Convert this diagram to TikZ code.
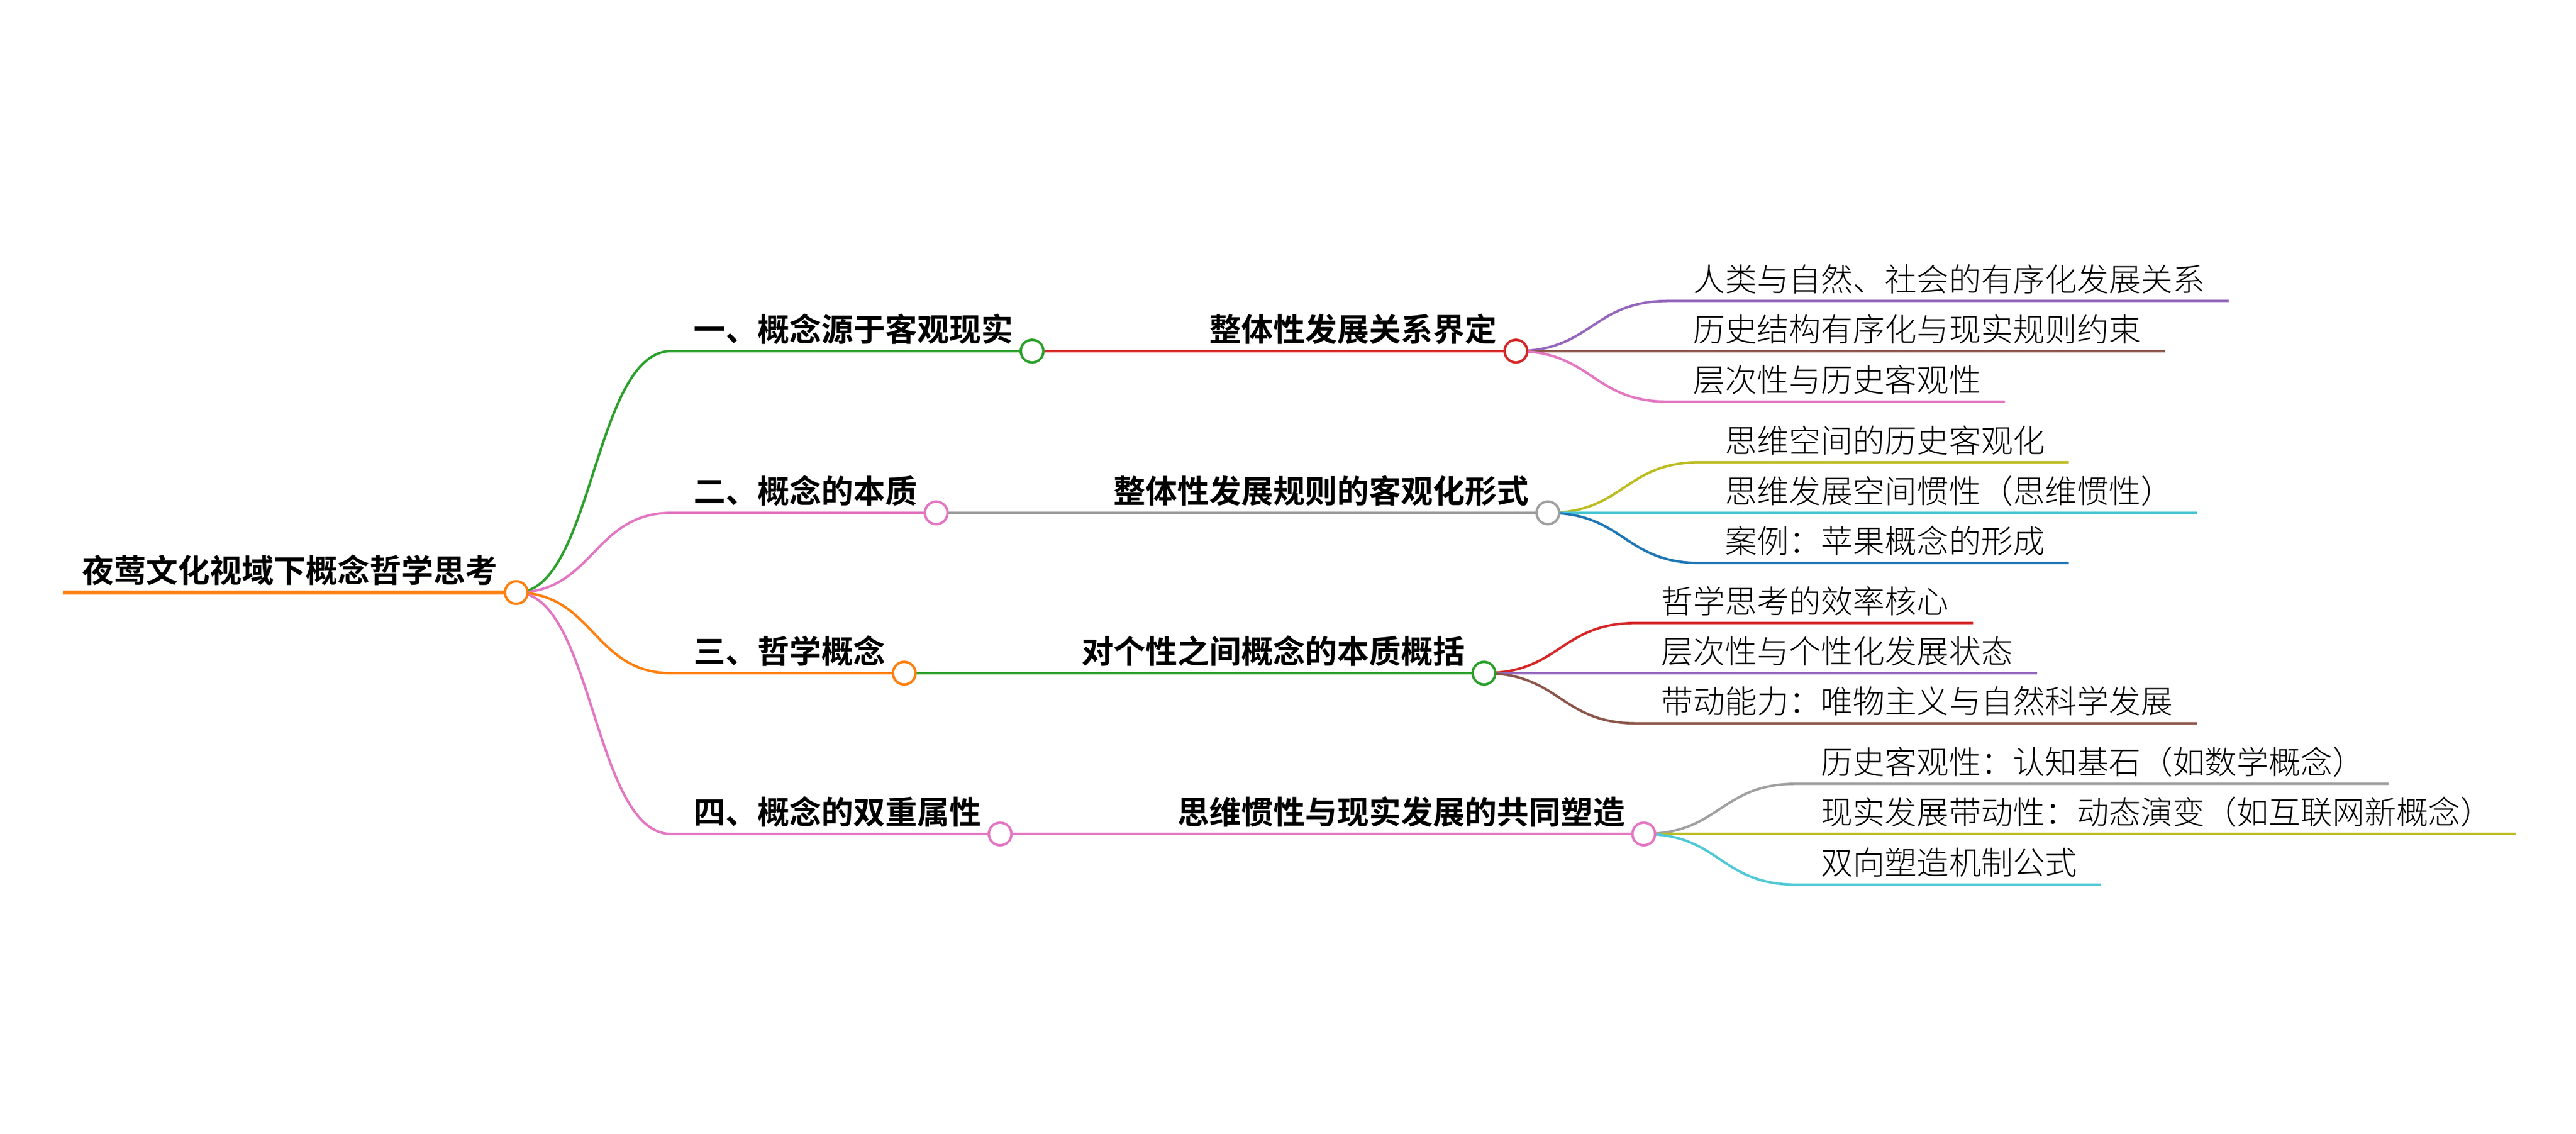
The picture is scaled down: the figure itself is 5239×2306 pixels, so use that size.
\documentclass[tikz,border=0pt]{standalone}
\usepackage{fontspec}
\newfontfamily\cjkb{Noto Sans CJK SC Bold}
\newfontfamily\cjkl{Noto Sans CJK SC Light}
\usetikzlibrary{calc}
\pgfdeclarelayer{bg}
\pgfsetlayers{bg,main}
\definecolor{corange}{HTML}{FF7F0E}
\definecolor{cgreen}{HTML}{2CA02C}
\definecolor{cred}{HTML}{D62728}
\definecolor{cpurple}{HTML}{9467BD}
\definecolor{cbrown}{HTML}{8C564B}
\definecolor{cpink}{HTML}{E377C2}
\definecolor{cgray}{HTML}{A0A0A0}
\definecolor{colive}{HTML}{BCBD22}
\definecolor{ccyan}{HTML}{50C9D6}
\definecolor{cblue}{HTML}{1F77B4}
\tikzset{
  boldtext/.style={anchor=base west, inner sep=0pt, font=\cjkb\fontsize{16.25pt}{16.25pt}\selectfont},
  leaftext/.style={anchor=base west, inner sep=0pt, font=\cjkl\fontsize{16.25pt}{16.25pt}\selectfont},
  knob/.style={circle, draw=#1, fill=white, line width=1.25pt, minimum size=11.5pt, inner sep=0pt},
  wire/.style={draw=#1, line width=1.25pt},
}
\begin{document}
\begin{tikzpicture}[x=0.25pt,y=-0.25pt]
\useasboundingbox (0,0) rectangle (5239,2306);
% root
\node[boldtext] (rt) at (166,1185) {夜莺文化视域下概念哲学思考};
\coordinate (rs) at (128,1205);
\node[knob=corange] (rc) at (1050,1205) {};
% level 1
\node[boldtext] (a1) at (1410,694) {一、概念源于客观现实};
\node[boldtext] (a2) at (1410,1023) {二、概念的本质};
\node[boldtext] (a3) at (1410,1349) {三、哲学概念};
\node[boldtext] (a4) at (1410,1676) {四、概念的双重属性};
\node[knob=cgreen] (b1) at (2099,714) {};
\node[knob=cpink] (b2) at (1904,1043) {};
\node[knob=corange] (b3) at (1839,1369) {};
\node[knob=cpink] (b4) at (2034,1696) {};
\coordinate (h1) at (1365,714);
\coordinate (h2) at (1365,1043);
\coordinate (h3) at (1365,1369);
\coordinate (h4) at (1365,1696);
% level 2
\node[boldtext] (s1) at (2459,694) {整体性发展关系界定};
\node[boldtext] (s2) at (2264,1023) {整体性发展规则的客观化形式};
\node[boldtext] (s3) at (2199,1349) {对个性之间概念的本质概括};
\node[boldtext] (s4) at (2394,1676) {思维惯性与现实发展的共同塑造};
\node[knob=cred] (c1) at (3083,714) {};
\node[knob=cgray] (c2) at (3148,1043) {};
\node[knob=cgreen] (c3) at (3018,1369) {};
\node[knob=cpink] (c4) at (3343,1696) {};
% leaves
\node[leaftext] (l11) at (3443,592) {人类与自然、社会的有序化发展关系};
\node[leaftext] (l12) at (3443,694) {历史结构有序化与现实规则约束};
\node[leaftext] (l13) at (3443,797) {层次性与历史客观性};
\node[leaftext] (l21) at (3508,920) {思维空间的历史客观化};
\node[leaftext] (l22) at (3508,1023) {思维发展空间惯性（思维惯性）};
\node[leaftext] (l23) at (3508,1125) {案例：苹果概念的形成};
\node[leaftext] (l31) at (3378,1247) {哲学思考的效率核心};
\node[leaftext] (l32) at (3378,1349) {层次性与个性化发展状态};
\node[leaftext] (l33) at (3378,1451) {带动能力：唯物主义与自然科学发展};
\node[leaftext] (l41) at (3703,1574) {历史客观性：认知基石（如数学概念）};
\node[leaftext] (l42) at (3703,1676) {现实发展带动性：动态演变（如互联网新概念）};
\node[leaftext] (l43) at (3703,1779) {双向塑造机制公式};
\foreach \n in {11,12,13,21,22,23,31,32,33,41,42,43}{
  \coordinate (e\n) at ($(l\n.base east)+(48,20)$);
}
\coordinate (h11) at (3393,612);
\coordinate (h12) at (3393,714);
\coordinate (h13) at (3393,817);
\coordinate (h21) at (3458,940);
\coordinate (h22) at (3458,1043);
\coordinate (h23) at (3458,1145);
\coordinate (h31) at (3328,1267);
\coordinate (h32) at (3328,1369);
\coordinate (h33) at (3328,1471);
\coordinate (h41) at (3653,1594);
\coordinate (h42) at (3653,1696);
\coordinate (h43) at (3653,1799);
\begin{pgfonlayer}{bg}
  \draw[draw=corange, line width=2pt] (rs) -- (rc.center);
  % level 1 links
  \draw[wire=cgreen] (rc.center) .. controls (1207,1205) and (1207,714) .. (h1) -- (b1.center);
  \draw[wire=cpink] (rc.center) .. controls (1207,1205) and (1207,1043) .. (h2) -- (b2.center);
  \draw[wire=corange] (rc.center) .. controls (1207,1205) and (1207,1369) .. (h3) -- (b3.center);
  \draw[wire=cpink] (rc.center) .. controls (1207,1205) and (1207,1696) .. (h4) -- (b4.center);
  % level 2 links
  \draw[wire=cred] (b1.center) -- (c1.center);
  \draw[wire=cgray] (b2.center) -- (c2.center);
  \draw[wire=cgreen] (b3.center) -- (c3.center);
  \draw[wire=cpink] (b4.center) -- (c4.center);
  % leaves group 1
  \draw[wire=cpurple] (c1.center) .. controls (3238,714) and (3238,612) .. (h11) -- (e11);
  \draw[wire=cbrown] (c1.center) -- (h12) -- (e12);
  \draw[wire=cpink] (c1.center) .. controls (3238,714) and (3238,817) .. (h13) -- (e13);
  % group 2
  \draw[wire=colive] (c2.center) .. controls (3303,1043) and (3303,940) .. (h21) -- (e21);
  \draw[wire=ccyan] (c2.center) -- (h22) -- (e22);
  \draw[wire=cblue] (c2.center) .. controls (3303,1043) and (3303,1145) .. (h23) -- (e23);
  % group 3
  \draw[wire=cred] (c3.center) .. controls (3173,1369) and (3173,1267) .. (h31) -- (e31);
  \draw[wire=cpurple] (c3.center) -- (h32) -- (e32);
  \draw[wire=cbrown] (c3.center) .. controls (3173,1369) and (3173,1471) .. (h33) -- (e33);
  % group 4
  \draw[wire=cgray] (c4.center) .. controls (3498,1696) and (3498,1594) .. (h41) -- (e41);
  \draw[wire=colive] (c4.center) -- (h42) -- (e42);
  \draw[wire=ccyan] (c4.center) .. controls (3498,1696) and (3498,1799) .. (h43) -- (e43);
\end{pgfonlayer}
\end{tikzpicture}
\end{document}
